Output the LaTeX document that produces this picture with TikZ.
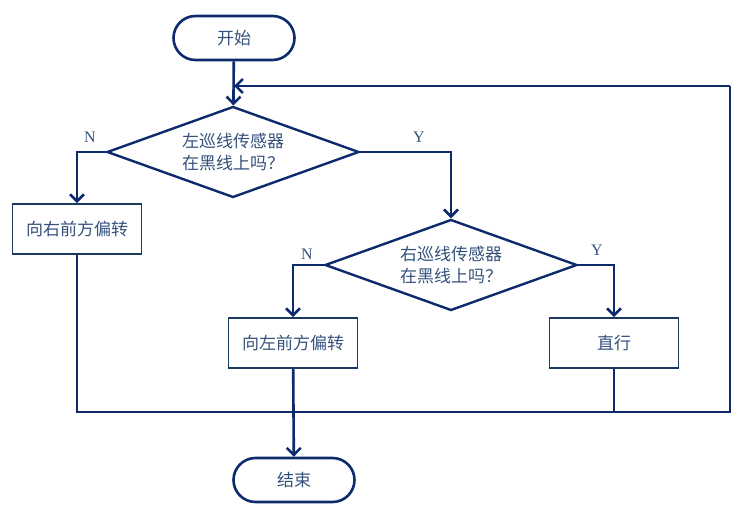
\documentclass[tikz,border=0pt]{standalone}
\usepackage{fontspec}
\setmainfont{Liberation Serif}
\newfontfamily\cjk{Noto Sans CJK SC}
\usepackage{xcolor}
\usetikzlibrary{shapes.geometric,arrows.meta}
\definecolor{fcline}{HTML}{0C2A6C}
\definecolor{fcedge}{HTML}{1C3A60}
\definecolor{fctext}{HTML}{34517C}
\tikzset{
  fcterm/.style={draw=fcline, line width=2.6pt, rounded corners=22pt, minimum width=121pt, minimum height=44pt, text=fctext, font=\cjk\fontsize{17}{21}\selectfont},
  fcbox/.style={draw=fcedge, line width=1.8pt, minimum width=129pt, minimum height=50pt, text=fctext, font=\cjk\fontsize{17}{21}\selectfont},
  fcdiam/.style={diamond, draw=fcline, line width=2.4pt, aspect=2.75, inner sep=0pt, minimum width=252pt, minimum height=91pt, align=left, text=fctext, font=\cjk\fontsize{17}{22}\selectfont},
  fcflow/.style={draw=fcline, line width=2.6pt, -{Straight Barb[length=7pt,width=14pt]}},
  fcwire/.style={draw=fcline, line width=2.6pt},
  fcyn/.style={text=fctext, font=\fontsize{16}{18}\selectfont, inner sep=0pt},
}

\begin{document}
\begin{tikzpicture}[x=1pt, y=-1pt]
\useasboundingbox (0,0) rectangle (743,510);
% nodes
\node[fcterm] (start) at (234,38) {开始};
\node[fcdiam] (leftq) at (233,152) {左巡线传感器\\在黑线上吗？};
\node[fcbox] (turnright) at (77,229) {向右前方偏转};
\node[fcdiam] (rightq) at (451,265) {右巡线传感器\\在黑线上吗？};
\node[fcbox] (turnleft) at (293,343) {向左前方偏转};
\node[fcbox] (straight) at (614,343) {直行};
\node[fcterm] (stop) at (294,480) {结束};
% corners of the loop back
\coordinate (loopbl) at (77,412);
\coordinate (loopbr) at (730,412);
\coordinate (looptr) at (730,86);
\coordinate (loopin) at (234,86);
% yes / no
\node[fcyn] (n1) at (90,137) {N};
\node[fcyn] (y1) at (419,137) {Y};
\node[fcyn] (n2) at (307,254) {N};
\node[fcyn] (y2) at (597,250) {Y};
% connectors
\draw[fcflow] (start) -- (leftq);
\draw[fcflow] (leftq.west) -| (turnright.north);
\draw[fcflow] (leftq.east) -| (rightq.north);
\draw[fcflow] (rightq.west) -| (turnleft.north);
\draw[fcflow] (rightq.east) -| (straight.north);
\draw[fcflow] (turnleft) -- (stop);
\draw[fcwire] (turnright.south) -- (loopbl) -- (loopbr) -- (looptr);
\draw[fcflow] (looptr) -- (loopin);
\draw[fcwire] (straight.south) -- (straight.south |- loopbr);
\end{tikzpicture}
\end{document}
